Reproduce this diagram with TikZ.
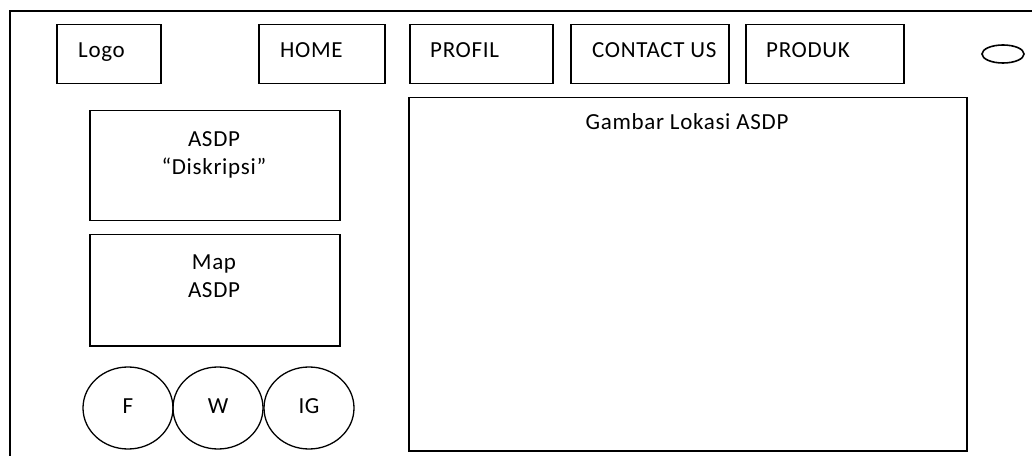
\documentclass[tikz,border=0pt]{standalone}
\usepackage{fontspec}
\setmainfont{Carlito}[LetterSpace=3]
\usetikzlibrary{shapes.geometric}
\begin{document}
\begin{tikzpicture}[x=1bp,y=-1bp,
  frame/.style={draw, line width=1.3bp},
  box/.style={draw, line width=1.5bp, anchor=north west, inner sep=0pt},
  circ/.style={draw, line width=1.3bp, ellipse, minimum width=90bp, minimum height=82bp, inner sep=0pt},
  lbl/.style={font=\fontsize{23bp}{28bp}\selectfont, inner sep=0pt},
]
\useasboundingbox (0,0) rectangle (1032,456);
\begin{scope}
\clip (0,0) rectangle (1032,456);
\draw[frame] (1040,11) -- (10,11) -- (10,470);
\end{scope}
% menu boxes
\node[box, minimum width=104bp, minimum height=59bp] (logo) at (56,24) {};
\node[box, minimum width=126bp, minimum height=59bp] (home) at (258,24) {};
\node[box, minimum width=143bp, minimum height=59bp] (profil) at (409,24) {};
\node[box, minimum width=158bp, minimum height=59bp] (contact) at (570,24) {};
\node[box, minimum width=158bp, minimum height=59bp] (produk) at (745,24) {};
\node[lbl, anchor=base west] (logot) at (78,58) {Logo};
\node[lbl, anchor=base west] (homet) at (280,58) {HOME};
\node[lbl, anchor=base west] (profilt) at (430,58) {PROFIL};
\node[lbl, anchor=base west] (contactt) at (592,58) {CONTACT US};
\node[lbl, anchor=base west] (produkt) at (766,58) {PRODUK};
\node[draw, line width=1.6bp, ellipse, minimum width=42bp, minimum height=18bp, inner sep=0pt] (search) at (1003,54) {};
% left column
\node[box, minimum width=250bp, minimum height=110bp] (desc) at (89,110) {};
\node[lbl, anchor=base] (desct1) at (214,147) {ASDP};
\node[lbl, anchor=base] (desct2) at (214,175) {“Diskripsi”};
\node[box, minimum width=250bp, minimum height=111bp] (map) at (89,234) {};
\node[lbl, anchor=base] (mapt1) at (214,270) {Map};
\node[lbl, anchor=base] (mapt2) at (214,298) {ASDP};
% social circles
\node[circ] (f) at (128,408) {};
\node[circ] (w) at (218,408) {};
\node[circ] (ig) at (309,408) {};
\node[lbl, anchor=base] (ft) at (128,413) {F};
\node[lbl, anchor=base] (wt) at (218,413) {W};
\node[lbl, anchor=base] (igt) at (309,413) {IG};
% big picture box
\node[box, minimum width=558bp, minimum height=353bp] (gambar) at (408,97) {};
\node[lbl, anchor=base] (gambart) at (687,130) {Gambar Lokasi ASDP};
\end{tikzpicture}
\end{document}
